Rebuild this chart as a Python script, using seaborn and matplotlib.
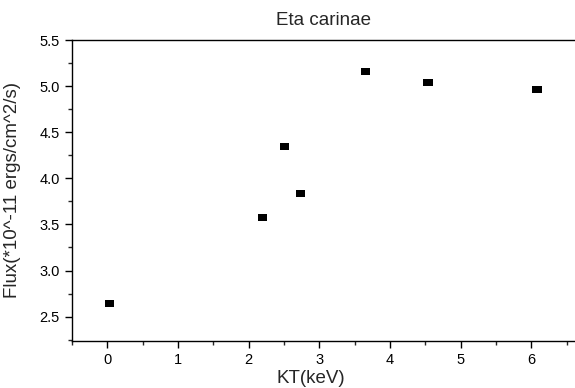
import matplotlib
matplotlib.use("Agg")
import matplotlib.pyplot as plt
import seaborn as sns
import pandas as pd
from matplotlib.ticker import MultipleLocator

kt_kev = [0.03, 2.20, 2.51, 2.73, 3.65, 4.54, 6.08]
flux = [2.64, 3.57, 4.35, 3.84, 5.155, 5.04, 4.96]
x_ticks = [0, 1, 2, 3, 4, 5, 6]
y_ticks = [2.5, 3.0, 3.5, 4.0, 4.5, 5.0, 5.5]

sns.set_style("ticks")
plt.rcParams['font.family'] = ['Liberation Sans', 'DejaVu Sans']

df = pd.DataFrame({"kt": kt_kev, "flux": flux})

fig = plt.figure(figsize=(5.75, 3.88), dpi=100)
ax = fig.add_axes([72/575, 47/388, 1 - 72/575, (341-40)/388])

rect = [(-1, -0.75), (1, -0.75), (1, 0.75), (-1, 0.75), (-1, -0.75)]
sns.scatterplot(data=df, x="kt", y="flux", marker=rect, s=45, color="black",
                edgecolor="none", linewidth=0, ax=ax)

ax.set_xlim(-0.5, 6.62)
ax.set_ylim(2.236, 5.5)
ax.set_xticks(x_ticks)
ax.set_xticklabels([str(t) for t in x_ticks])
ax.set_yticks(y_ticks)
ax.set_yticklabels([f"{t:.1f}" for t in y_ticks])
ax.xaxis.set_minor_locator(MultipleLocator(0.5))
ax.yaxis.set_minor_locator(MultipleLocator(0.25))
ax.tick_params(axis='both', which='major', direction='out', length=5, width=1,
               labelsize=10.5, colors='black', pad=4)
ax.tick_params(axis='both', which='minor', direction='out', length=3, width=1)
ax.spines['right'].set_visible(False)
for s in ['left', 'bottom', 'top']:
    ax.spines[s].set_linewidth(1.0)
    ax.spines[s].set_color('black')

ax.set_xlabel("KT(keV)", fontsize=13.5)
ax.xaxis.set_label_coords(0.475, -0.097)
ax.set_ylabel("Flux(*10^-11 ergs/cm^2/s)", fontsize=13.5)
ax.yaxis.set_label_coords(-0.102, 0.5)
ax.set_title("Eta carinae", fontsize=13.5, pad=11)

fig.savefig("out.png", dpi=100)
